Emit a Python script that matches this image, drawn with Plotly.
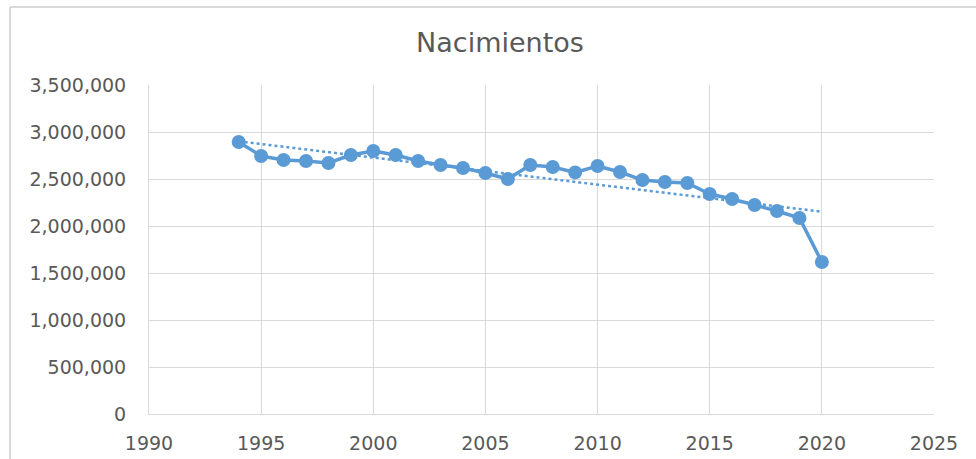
import numpy as np
import plotly.graph_objects as go

years = list(range(1994, 2021))
births = [2894000, 2745000, 2702000, 2691000, 2670000, 2755000, 2798000, 2755000,
          2691000, 2649000, 2617000, 2564000, 2500000, 2649000, 2628000, 2570000,
          2638000, 2574000, 2489000, 2468000, 2457000, 2340000, 2287000, 2223000,
          2160000, 2085000, 1617000]

x_ticks = [1990, 1995, 2000, 2005, 2010, 2015, 2020, 2025]
y_ticks = [0, 500000, 1000000, 1500000, 2000000, 2500000, 3000000, 3500000]

color = "#5b9bd5"

# linear trendline (least squares)
coef = np.polyfit(years, births, 1)
trend = np.polyval(coef, years)

fig = go.Figure()
fig.add_trace(go.Scatter(x=years, y=trend, mode="lines",
                         line=dict(color=color, width=2.5, dash="dot"),
                         hoverinfo="skip", showlegend=False))
fig.add_trace(go.Scatter(x=years, y=births, mode="lines+markers",
                         line=dict(color=color, width=3.5),
                         marker=dict(color=color, size=14),
                         showlegend=False))

font_family = "DejaVu Sans, sans-serif"
L, R, T, B = 149, 42, 85, 45
W, H = 976, 459
pw, ph = W - L - R, H - T - B

fig.update_layout(
    width=W, height=H,
    margin=dict(l=L, r=R, t=T, b=B, autoexpand=False),
    paper_bgcolor="white", plot_bgcolor="white",
    title=dict(text="Nacimientos", x=(500 - L) / pw, xref="paper", xanchor="center",
               y=1 - 43 / H, yanchor="middle",
               font=dict(family=font_family, size=27, color="#595959")),
    font=dict(family=font_family, color="#595959"),
    xaxis=dict(range=[1990, 2025], tickvals=x_ticks, ticktext=[str(v) for v in x_ticks],
               showgrid=True, gridcolor="#d9d9d9", gridwidth=1,
               showline=True, linecolor="#d9d9d9", linewidth=1,
               zeroline=False, ticks="", ticklabelstandoff=12, automargin=False,
               tickfont=dict(size=19, color="#595959")),
    yaxis=dict(range=[0, 3500000], tickvals=y_ticks,
               ticktext=[f"{v:,}" for v in y_ticks],
               showgrid=True, gridcolor="#d9d9d9", gridwidth=1,
               showline=True, linecolor="#d9d9d9", linewidth=1,
               zeroline=False, ticks="", ticklabelstandoff=18, automargin=False,
               tickfont=dict(size=19, color="#595959")),
    shapes=[
        dict(type="line", xref="paper", yref="paper",
             x0=(10 - L) / pw, x1=(W - L) / pw,
             y0=(H - B - 7) / ph, y1=(H - B - 7) / ph,
             line=dict(color="#d9d9d9", width=2)),
        dict(type="line", xref="paper", yref="paper",
             x0=(10 - L) / pw, x1=(10 - L) / pw,
             y0=(H - B - 7) / ph, y1=-B / ph,
             line=dict(color="#d9d9d9", width=2)),
    ],
)

fig.write_html("out.html", config={"displayModeBar": False},
               post_script="document.body.style.margin='0';")
